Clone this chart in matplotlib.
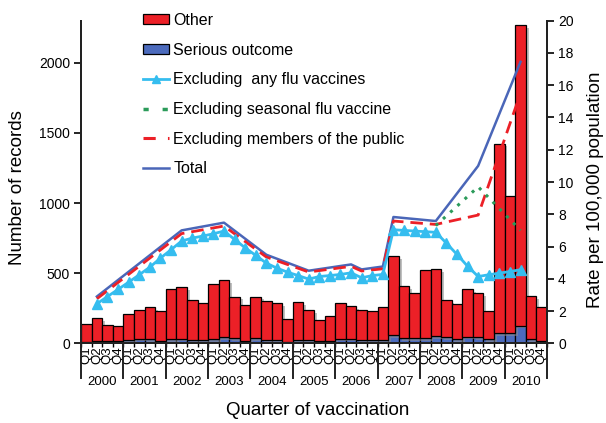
import matplotlib
matplotlib.use("Agg")
import matplotlib.pyplot as plt
import matplotlib.patheffects as pe
from matplotlib.patches import Patch
from matplotlib.lines import Line2D
from matplotlib.legend_handler import HandlerLine2D
import matplotlib.transforms as mtransforms

plt.rcParams['font.family'] = ['Liberation Sans', 'DejaVu Sans']

# ---------------- data ----------------
years = ['2000', '2001', '2002', '2003', '2004', '2005', '2006', '2007', '2008', '2009', '2010']
quarters = ['Q1', 'Q2', 'Q3', 'Q4']

serious = [12, 19, 14, 14, 24, 33, 29, 17, 29, 33, 21, 21,
           31, 43, 38, 19, 38, 26, 24, 12, 24, 24, 14, 14,
           33, 33, 21, 24, 24, 57, 36, 36, 38, 52, 45, 29,
           48, 43, 29, 71, 71, 126, 31, 19]
other = [126, 160, 117, 110, 183, 203, 228, 214, 359, 369, 286, 265,
         393, 409, 295, 255, 295, 274, 262, 159, 269, 212, 153, 181,
         253, 231, 215, 205, 235, 562, 374, 324, 483, 479, 262, 250,
         338, 317, 200, 1353, 976, 2140, 305, 238]

# rate lines (per 100,000 population); x = quarter index (0 = 2000 Q1)
total_q = [1, 9, 13, 17, 21, 25, 26, 28, 29, 33, 37, 41]
total_rate = [2.9, 7.0, 7.48, 5.49, 4.5, 4.89, 4.58, 4.76, 7.83, 7.58, 11.0, 17.45]

public_q = [1, 9, 13, 17, 21, 25, 26, 28, 29, 33, 37, 41]
public_rate = [2.76, 6.8, 7.27, 5.35, 4.42, 4.77, 4.48, 4.62, 7.58, 7.37, 7.95, 15.5]

seasonal_q = [33, 37, 41]
seasonal_rate = [7.3, 9.7, 7.0]

anyflu_q = list(range(1, 42))
anyflu_rate = [2.45, 2.9, 3.34, 3.79, 4.25, 4.72, 5.28, 5.8, 6.34, 6.52, 6.65,
               6.79, 6.96, 6.44, 5.92, 5.45, 4.97, 4.66, 4.41, 4.2, 3.98, 4.14,
               4.2, 4.27, 4.37, 4.06, 4.2, 4.27, 7.04, 7.0, 6.96, 6.92, 6.88,
               6.21, 5.51, 4.78, 4.14, 4.25, 4.35, 4.45, 4.56]

# ---------------- styling ----------------
RED = '#ec2027'
BLUE = '#4c6bbd'
LIGHT = '#35bdef'
GREEN = '#2b9b5a'
LINEBLUE = '#4a66b8'

W, H = 606, 423
fig = plt.figure(figsize=(W / 100, H / 100), dpi=100)
ax_left, ax_right, ax_bottom, ax_top = 81, 547, 343.3, 20.7
ax = fig.add_axes([ax_left / W, 1 - ax_bottom / H, (ax_right - ax_left) / W, (ax_bottom - ax_top) / H])

n = len(serious)
x = list(range(n))
shadow = [pe.SimplePatchShadow(offset=(2, -2), shadow_rgbFace='0.55', alpha=0.55), pe.Normal()]
b1 = ax.bar(x, serious, width=1.0, color=BLUE, edgecolor='black', linewidth=0.9, zorder=2)
b2 = ax.bar(x, other, width=1.0, bottom=serious, color=RED, edgecolor='black', linewidth=0.9, zorder=2)
for p in list(b1) + list(b2):
    p.set_path_effects(shadow)

ax.set_xlim(-0.5, n - 0.5)
ax.set_ylim(0, 2300)
ax.set_yticks([0, 500, 1000, 1500, 2000])
ax.tick_params(axis='y', direction='out', length=5, width=1.2, labelsize=10, pad=3)

ax.set_xticks(x)
ax.set_xticklabels(quarters * len(years), rotation=90, fontsize=9.5)
ax.tick_params(axis='x', length=0, pad=2)
ax.set_xticks([i - 0.5 for i in range(n + 1)], minor=True)
ax.tick_params(axis='x', which='minor', direction='out', length=3, width=1)

ax.spines['top'].set_visible(False)
for s in ['left', 'bottom', 'right']:
    ax.spines[s].set_linewidth(1.4)
    ax.spines[s].set_color('#222222')

trans = mtransforms.blended_transform_factory(ax.transData, ax.transAxes)
sep_len = 35 / (ax_bottom - ax_top)
for k in range(len(years) + 1):
    xb = 4 * k - 0.5
    ax.add_line(Line2D([xb, xb], [0, -sep_len], transform=trans, color='#222222', lw=1.4, clip_on=False))
for k, yr in enumerate(years):
    ax.text(4 * k + 1.5, -(381.5 - ax_bottom) / (ax_bottom - ax_top), yr, transform=trans,
            ha='center', va='center', fontsize=9.5)

ax2 = ax.twinx()
ax2.set_ylim(0, 20)
ax2.set_yticks(range(0, 21, 2))
ax2.tick_params(axis='y', direction='out', length=5, width=1.2, labelsize=10, pad=3)
ax2.spines['top'].set_visible(False)
for s in ['left', 'bottom', 'right']:
    ax2.spines[s].set_linewidth(1.4)
    ax2.spines[s].set_color('#222222')

ax2.plot(total_q, total_rate, color=LINEBLUE, lw=1.8, zorder=3)
ax2.plot(public_q, public_rate, color=RED, lw=2.0, linestyle=(0, (4.5, 2.5)), zorder=4)
ax2.plot(seasonal_q, seasonal_rate, color=GREEN, lw=2.2, linestyle=(0, (1.0, 2.2)), zorder=4)
ax2.plot(anyflu_q, anyflu_rate, color=LIGHT, lw=2.0, marker='^', markersize=7, zorder=5)

fig.text(18 / W, 1 - 188 / H, 'Number of records', rotation=90, ha='center', va='center', fontsize=13.5)
fig.text(318 / W, 1 - 410 / H, 'Quarter of vaccination', ha='center', va='center', fontsize=13.5)
fig.text(596 / W, 1 - 190 / H, 'Rate per 100,000 population', rotation=90, ha='center', va='center', fontsize=13.5)

handles = [
    Patch(facecolor=RED, edgecolor='black', linewidth=0.9),
    Patch(facecolor=BLUE, edgecolor='black', linewidth=0.9),
    Line2D([], [], color=LIGHT, lw=2, marker='^', markersize=6),
    Line2D([], [], color=GREEN, lw=2.5, linestyle=(0, (1.5, 4))),
    Line2D([], [], color=RED, lw=2.2, linestyle=(0, (4, 4))),
    Line2D([], [], color=LINEBLUE, lw=1.8),
]
labels = ['Other', 'Serious outcome', 'Excluding  any flu vaccines', 'Excluding seasonal flu vaccine',
          'Excluding members of the public', 'Total']
leg = ax2.legend(handles, labels, loc='upper left', bbox_to_anchor=(143 / W, 1 - 13 / H),
                 bbox_transform=fig.transFigure, frameon=False, fontsize=11.5, handlelength=1.6,
                 handleheight=0.6, handletextpad=0.3, labelspacing=0.92, borderpad=0, borderaxespad=0,
                 handler_map={Line2D: HandlerLine2D(numpoints=1)})
leg.set_zorder(10)

fig.savefig('out.png', dpi=100)
